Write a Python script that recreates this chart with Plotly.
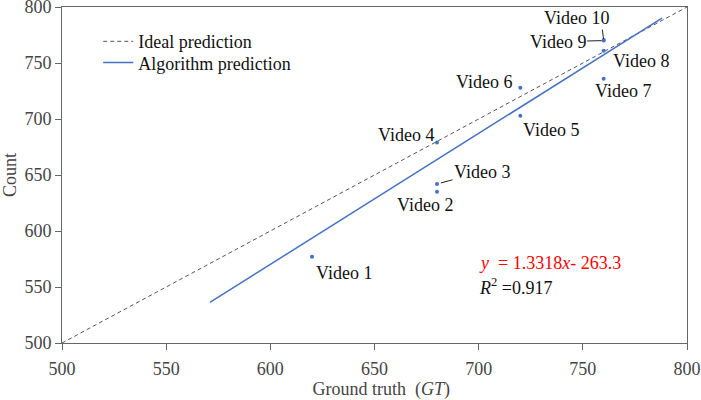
import plotly.graph_objects as go

# ---- data ----
videos = ["Video 1", "Video 2", "Video 3", "Video 4", "Video 5",
          "Video 6", "Video 7", "Video 8", "Video 9", "Video 10"]
ground_truth = [620, 680, 680, 680, 720, 720, 760, 760, 760, 760]
counts = [577, 635, 642, 679, 703, 728, 736, 761, 770, 770.5]

ideal_x = [500, 800]
ideal_y = [500, 800]

fit_x = [571, 788]
fit_y = [536.3, 790]

x_ticks = [500, 550, 600, 650, 700, 750, 800]
y_ticks = [500, 550, 600, 650, 700, 750, 800]

FONT = "Liberation Serif, Times New Roman, serif"
BLUE = "#4472C4"
FS = 18

fig = go.Figure()
fig.add_trace(go.Scatter(x=ideal_x, y=ideal_y, mode="lines", name="Ideal prediction",
                         legend="legend",
                         line=dict(color="#555555", width=1, dash="4px,3px")))
fig.add_trace(go.Scatter(x=fit_x, y=fit_y, mode="lines", name="Algorithm prediction",
                         legend="legend2",
                         line=dict(color=BLUE, width=1.5)))
fig.add_trace(go.Scatter(x=ground_truth, y=counts, mode="markers", showlegend=False,
                         marker=dict(color=BLUE, size=4)))

# label placement (pixel offsets relative to each point)
label_style = {
    "Video 1": dict(xanchor="left", xshift=2, yshift=-16),
    "Video 2": dict(xanchor="center", xshift=-12, yshift=-13),
    "Video 4": dict(xanchor="right", xshift=-1, yshift=8),
    "Video 5": dict(xanchor="left", xshift=1, yshift=-14),
    "Video 6": dict(xanchor="right", xshift=-6, yshift=6),
    "Video 7": dict(xanchor="left", xshift=-11, yshift=-12),
    "Video 8": dict(xanchor="left", xshift=7, yshift=-10),
    "Video 10": dict(xanchor="center", xshift=-27, yshift=22),
}
arrow_style = {
    "Video 3": dict(ax=45, ay=-12, standoff=4),
    "Video 9": dict(ax=-46, ay=1, standoff=2),
}
annotations = []
for name, gx, cy in zip(videos, ground_truth, counts):
    if name in label_style:
        annotations.append(dict(x=gx, y=cy, text=name, showarrow=False, yanchor="middle",
                                font=dict(family=FONT, size=FS, color="#111"),
                                **label_style[name]))
    elif name in arrow_style:
        annotations.append(dict(x=gx, y=cy, text=name, showarrow=True, arrowhead=0,
                                arrowwidth=1, arrowcolor="#222",
                                font=dict(family=FONT, size=FS, color="#111"),
                                **arrow_style[name]))
# leader for Video 10
annotations.append(dict(x=ground_truth[9], y=counts[9], text="", showarrow=True, arrowhead=0,
                        arrowwidth=1, arrowcolor="#222", ax=-1.5, ay=-12, standoff=1))

annotations.append(dict(xref="paper", yref="paper", x=0.664, y=0.239, xanchor="left",
                        yanchor="middle", showarrow=False,
                        text="<i>y</i>&nbsp;&nbsp;= 1.3318<i>x</i>- 263.3",
                        font=dict(family=FONT, size=FS, color="#FF0000")))
annotations.append(dict(xref="paper", yref="paper", x=0.664, y=0.167, xanchor="left",
                        yanchor="middle", showarrow=False,
                        text="<i>R</i><sup>2</sup> =0.917",
                        font=dict(family=FONT, size=FS, color="#111")))

axis_common = dict(
    showline=True, linecolor="#666666", linewidth=1, mirror=True,
    ticks="outside", ticklen=6, tickcolor="#666666", tickwidth=1,
    showgrid=False, zeroline=False, ticklabeloverflow="allow", automargin=False,
    tickfont=dict(family=FONT, size=FS, color="#444444"),
)

legend_common = dict(xanchor="left", yanchor="top",
                     font=dict(family=FONT, size=FS, color="#111"),
                     bgcolor="rgba(0,0,0,0)")

fig.update_layout(
    width=701, height=400,
    margin=dict(l=62, r=14, t=7, b=57, autoexpand=False),
    plot_bgcolor="white", paper_bgcolor="white",
    xaxis=dict(range=[500, 800], tickvals=x_ticks, ticklabelstandoff=3,
               title=dict(text="&nbsp;&nbsp;&nbsp;Ground truth&nbsp;&nbsp;(<i>GT</i>)",
                          font=dict(family=FONT, size=FS, color="#444"), standoff=8),
               **axis_common),
    yaxis=dict(range=[500, 800], tickvals=y_ticks,
               title=dict(text="Count", font=dict(family=FONT, size=FS, color="#444"),
                          standoff=8),
               **axis_common),
    legend=dict(x=0.058, y=0.952, **legend_common),
    legend2=dict(x=0.058, y=0.889, **legend_common),
    annotations=annotations,
    showlegend=True,
)

fig.write_html("out.html")
